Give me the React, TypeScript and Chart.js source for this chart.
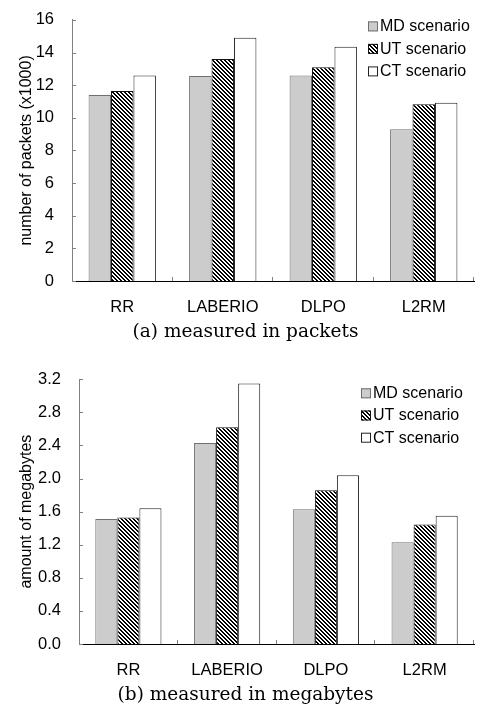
import React, { useEffect, useRef } from 'react';
import { Chart, registerables } from 'chart.js';

Chart.register(...registerables);

const categories = ['RR', 'LABERIO', 'DLPO', 'L2RM'];
const seriesNames = ['MD scenario', 'UT scenario', 'CT scenario'];

const packetsMD = [11.4, 12.56, 12.6, 9.3];
const packetsUT = [11.65, 13.6, 13.1, 10.83];
const packetsCT = [12.6, 14.9, 14.35, 10.93];

const megabytesMD = [1.51, 2.43, 1.63, 1.23];
const megabytesUT = [1.53, 2.62, 1.86, 1.445];
const megabytesCT = [1.64, 3.15, 2.04, 1.55];

const packetsAxis = { max: 16, step: 2, decimals: 0, title: 'number of packets (x1000)' };
const megabytesAxis = { max: 3.2, step: 0.4, decimals: 1, title: 'amount of megabytes' };

const captionA = '(a) measured in packets';
const captionB = '(b) measured in megabytes';

const SANS = '"Liberation Sans", Arial, sans-serif';
const SERIF = '"DejaVu Serif", serif';

function makeHatch(): CanvasPattern | string {
  const c = document.createElement('canvas');
  c.width = 4;
  c.height = 4;
  const g = c.getContext('2d');
  if (!g) return '#888';
  g.fillStyle = '#fff';
  g.fillRect(0, 0, 4, 4);
  g.fillStyle = '#000';
  for (let yy = 0; yy < 4; yy++) {
    for (let xx = 0; xx < 4; xx++) {
      if ((((xx - yy) % 4) + 4) % 4 < 2) g.fillRect(xx, yy, 1, 1);
    }
  }
  return g.createPattern(c, 'repeat') || '#888';
}

const decorPlugin = {
  id: 'decor',
  afterDraw(chart: any, _args: any, opts: any) {
    const { ctx, chartArea, scales } = chart;
    const x = scales.x;
    const y = scales.y;
    ctx.save();
    ctx.strokeStyle = '#808080';
    ctx.lineWidth = 1;
    ctx.beginPath();
    y.ticks.forEach((t: any) => {
      const py = Math.round(y.getPixelForValue(t.value)) + 0.5;
      ctx.moveTo(chartArea.left, py);
      ctx.lineTo(chartArea.left + 4, py);
    });
    const n = x.ticks.length;
    const w = (chartArea.right - chartArea.left) / n;
    for (let i = 1; i <= n; i++) {
      const px = Math.round(x.getPixelForValue(i - 1) + w / 2) - 0.5;
      ctx.moveTo(px, chartArea.bottom);
      ctx.lineTo(px, chartArea.bottom - 4);
    }
    ctx.stroke();

    // legend
    const lx = chartArea.right - opts.legendRight;
    let ly = chartArea.top + opts.legendTop;
    ctx.font = '16px ' + SANS;
    ctx.textBaseline = 'middle';
    ctx.textAlign = 'left';
    chart.data.datasets.forEach((ds: any) => {
      ctx.fillStyle = ds.backgroundColor;
      ctx.fillRect(lx, ly - 5, 10, 10);
      ctx.strokeStyle = ds.borderColor;
      ctx.lineWidth = 1;
      ctx.strokeRect(lx + 0.5, ly - 4.5, 9, 9);
      ctx.fillStyle = '#000';
      ctx.fillText(ds.label, lx + 12, ly + 0.5);
      ly += opts.legendGap;
    });

    // caption, centred on the page
    ctx.font = '18.5px ' + SERIF;
    ctx.textAlign = 'center';
    ctx.textBaseline = 'alphabetic';
    ctx.fillStyle = '#000';
    ctx.fillText(opts.caption, chart.width / 2 + 3, chartArea.bottom + 55.7);
    ctx.restore();
  },
};

type Cfg = {
  values: number[][];
  axis: { max: number; step: number; decimals: number; title: string };
  caption: string;
  padTop: number;
  yWidth: number;
  legendRight: number;
  legendTop: number;
  legendGap: number;
};

function build(canvas: HTMLCanvasElement, cfg: Cfg) {
  const hatch = makeHatch();
  const fills = ['#cccccc', hatch, '#ffffff'];
  const borders = ['#6f6f6f', '#111111', '#222222'];
  return new Chart(canvas, {
    type: 'bar',
    data: {
      labels: categories,
      datasets: cfg.values.map((vals, i) => ({
        label: seriesNames[i],
        data: vals,
        backgroundColor: fills[i] as any,
        borderColor: borders[i],
        borderWidth: 1,
        categoryPercentage: 0.67,
        barPercentage: 1,
      })),
    },
    options: {
      animation: false,
      responsive: false,
      events: [],
      layout: { padding: { top: cfg.padTop, right: 11, left: 0, bottom: 0 } },
      plugins: {
        legend: { display: false },
        tooltip: { enabled: false },
        decor: {
          legendRight: cfg.legendRight,
          legendTop: cfg.legendTop,
          legendGap: cfg.legendGap,
          caption: cfg.caption,
        },
      } as any,
      scales: {
        x: {
          grid: { display: false },
          border: { display: true, color: '#000', width: 1 },
          ticks: {
            color: '#000',
            font: { family: SANS, size: 16.5 },
            padding: 9,
            maxRotation: 0,
            autoSkip: false,
          },
          afterFit: (s: any) => {
            s.height = 65;
          },
        },
        y: {
          min: 0,
          max: cfg.axis.max,
          grid: { display: false },
          border: { display: true, color: '#808080', width: 1 },
          ticks: {
            stepSize: cfg.axis.step,
            color: '#000',
            font: { family: SANS, size: 16.5 },
            padding: 10,
            callback: (v: any) => Number(v).toFixed(cfg.axis.decimals),
          },
          title: {
            display: true,
            text: cfg.axis.title,
            color: '#000',
            font: { family: SANS, size: 16 },
            padding: { top: 17, bottom: 0 },
          },
          afterFit: (s: any) => {
            s.width = cfg.yWidth;
          },
        },
      },
    },
    plugins: [decorPlugin as any],
  });
}

export default function App() {
  const topRef = useRef<HTMLCanvasElement>(null);
  const botRef = useRef<HTMLCanvasElement>(null);

  useEffect(() => {
    const charts: Chart[] = [];
    if (topRef.current) {
      charts.push(
        build(topRef.current, {
          values: [packetsMD, packetsUT, packetsCT],
          axis: packetsAxis,
          caption: captionA,
          padTop: 12,
          yWidth: 72,
          legendRight: 106,
          legendTop: 6.5,
          legendGap: 22.5,
        })
      );
    }
    if (botRef.current) {
      charts.push(
        build(botRef.current, {
          values: [megabytesMD, megabytesUT, megabytesCT],
          axis: megabytesAxis,
          caption: captionB,
          padTop: 33.3,
          yWidth: 79,
          legendRight: 113,
          legendTop: 14,
          legendGap: 22.2,
        })
      );
    }
    return () => charts.forEach((c) => c.destroy());
  }, []);

  return (
    <div style={{ position: 'absolute', left: 0, top: 0, width: 485, height: 709, background: '#fff' }}>
      <canvas ref={topRef} width={485} height={346} style={{ display: 'block' }} />
      <canvas ref={botRef} width={485} height={363} style={{ display: 'block' }} />
    </div>
  );
}
